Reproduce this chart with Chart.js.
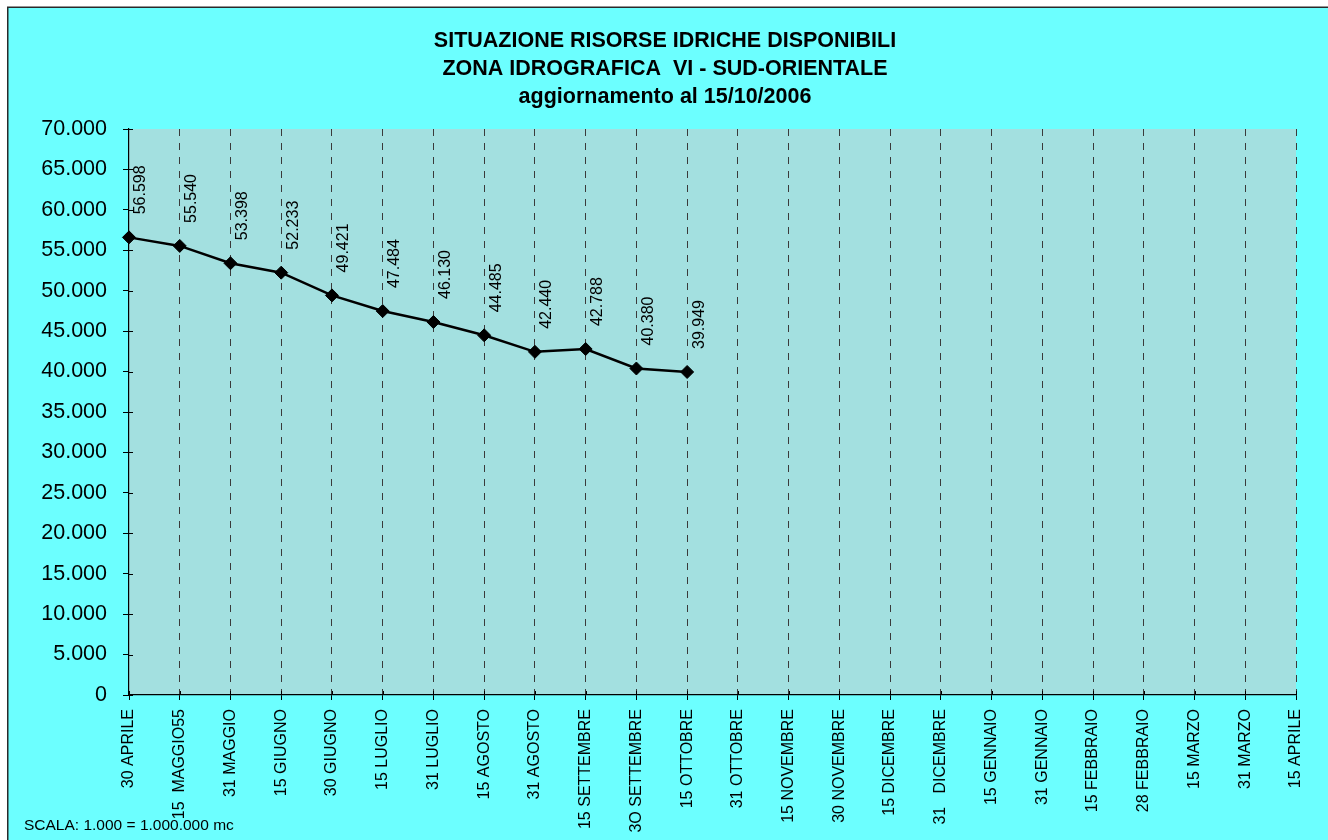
<!DOCTYPE html>
<html>
<head>
<meta charset="utf-8">
<title>Situazione risorse idriche disponibili</title>
<script src="https://cdn.jsdelivr.net/npm/chart.js@4.4.1/dist/chart.umd.min.js"></script>
<style>
html, body { margin: 0; padding: 0; background: #fff; }
#chart-box { width: 1328px; height: 840px; }
</style>
</head>
<body>
<div id="chart-box"><canvas id="myLineChart" width="1328" height="840"></canvas></div>
<script>
let date_labels = ["30 APRILE", "15  MAGGIO55", "31 MAGGIO", "15 GIUGNO", "30 GIUGNO", "15 LUGLIO",
	"31 LUGLIO", "15 AGOSTO", "31 AGOSTO", "15 SETTEMBRE", "3O SETTEMBRE", "15 OTTOBRE",
	"31 OTTOBRE", "15 NOVEMBRE", "30 NOVEMBRE", "15 DICEMBRE", "31   DICEMBRE", "15 GENNAIO",
	"31 GENNAIO", "15 FEBBRAIO", "28 FEBBRAIO", "15 MARZO", "31 MARZO", "15 APRILE"]

// migliaia di mc
let volumi = [56598, 55540, 53398, 52233, 49421, 47484, 46130, 44485, 42440, 42788, 40380, 39949]

let y_min = 0
let y_max = 70000
let y_step = 5000

let title_lines = ["SITUAZIONE RISORSE IDRICHE DISPONIBILI", "ZONA IDROGRAFICA  VI - SUD-ORIENTALE", "aggiornamento al 15/10/2006"]
let scala_text = "SCALA: 1.000 = 1.000.000 mc"

const FONT = '"Liberation Sans", Arial, sans-serif'

let fmt = function(v) {
	return String(v).replace(/\B(?=(\d{3})+(?!\d))/g, '.')
}

let sfondo = {
	id: 'sfondo',
	beforeDraw(chart) {
		let c = chart.ctx
		let a = chart.chartArea
		c.save()
		c.fillStyle = '#fff'
		c.fillRect(0, 0, chart.width, chart.height)
		c.fillStyle = '#6cffff'
		c.fillRect(8, 7, chart.width - 8, chart.height - 7)
		c.strokeStyle = '#2a2a2a'
		c.lineWidth = 1.5
		c.beginPath()
		c.moveTo(7.75, chart.height)
		c.lineTo(7.75, 7.25)
		c.lineTo(chart.width, 7.25)
		c.stroke()
		c.fillStyle = '#a3e0e0'
		c.fillRect(a.left, a.top, a.right - a.left, a.bottom - a.top)
		c.restore()
	},
	beforeDatasetsDraw(chart) {
		// tacche interne degli assi (stile "incrociato")
		let c = chart.ctx
		let a = chart.chartArea
		let sx = chart.scales.x
		let sy = chart.scales.y
		c.save()
		c.strokeStyle = '#000'
		c.lineWidth = 1
		c.beginPath()
		sy.ticks.forEach(function(t) {
			let y = Math.round(sy.getPixelForValue(t.value)) + 0.5
			c.moveTo(a.left, y)
			c.lineTo(a.left + 4, y)
		})
		sx.ticks.forEach(function(t, i) {
			let x = Math.round(sx.getPixelForTick(i)) + 0.5
			c.moveTo(x, a.bottom)
			c.lineTo(x, a.bottom - 4)
		})
		c.stroke()
		c.restore()
	},
	afterDatasetsDraw(chart) {
		let c = chart.ctx
		let meta = chart.getDatasetMeta(0)
		c.save()
		c.fillStyle = '#000'
		c.font = '16px ' + FONT
		c.textAlign = 'left'
		c.textBaseline = 'middle'
		meta.data.forEach(function(pt, i) {
			c.save()
			c.translate(pt.x + 12, pt.y - 23)
			c.rotate(-Math.PI / 2)
			c.fillText(fmt(volumi[i]), 0, 0)
			c.restore()
		})
		c.restore()
	},
	afterDraw(chart) {
		let c = chart.ctx
		c.save()
		c.fillStyle = '#000'
		c.textAlign = 'center'
		c.textBaseline = 'alphabetic'
		c.font = 'bold 21.5px ' + FONT
		title_lines.forEach(function(t, i) {
			c.fillText(t, 665, 47 + i * 28)
		})
		c.textAlign = 'left'
		c.font = '15.5px ' + FONT
		c.fillText(scala_text, 24, 830)
		c.restore()
	}
}

const ctx = document.getElementById('myLineChart').getContext('2d')

let myLineChart = new Chart(ctx, {
	type: 'line',
	data: {
		labels: date_labels,
		datasets: [{
			data: volumi,
			borderColor: '#000',
			borderWidth: 2.5,
			tension: 0,
			fill: false,
			pointStyle: 'rectRot',
			pointRadius: 6.5,
			pointBackgroundColor: '#000',
			pointBorderColor: '#000',
			pointBorderWidth: 1,
			clip: false
		}]
	},
	options: {
		responsive: false,
		animation: false,
		devicePixelRatio: 1,
		layout: {
			padding: { top: 129, right: 32, bottom: 0, left: 10 }
		},
		plugins: {
			legend: { display: false },
			title: { display: false },
			tooltip: { enabled: false }
		},
		scales: {
			x: {
				offset: false,
				grid: {
					color: function(c) { return c.index === 0 ? 'rgba(0,0,0,0)' : '#3a3a3a' },
					tickColor: '#000',
					lineWidth: 1,
					tickLength: 5
				},
				border: { color: '#000', width: 1.2, dash: [7, 7] },
				ticks: {
					autoSkip: false,
					minRotation: 90,
					maxRotation: 90,
					padding: 9,
					color: '#000',
					font: { family: FONT, size: 16 }
				},
				afterFit: function(scale) { scale.height = 145 }
			},
			y: {
				min: y_min,
				max: y_max,
				grid: {
					drawOnChartArea: false,
					color: '#000',
					tickLength: 6
				},
				border: { color: '#000', width: 1.2 },
				ticks: {
					stepSize: y_step,
					padding: 16,
					color: '#000',
					font: { family: FONT, size: 21.5 },
					callback: function(v) { return fmt(v) }
				},
				afterFit: function(scale) { scale.width = 119 }
			}
		}
	},
	plugins: [sfondo]
})
</script>
</body>
</html>
